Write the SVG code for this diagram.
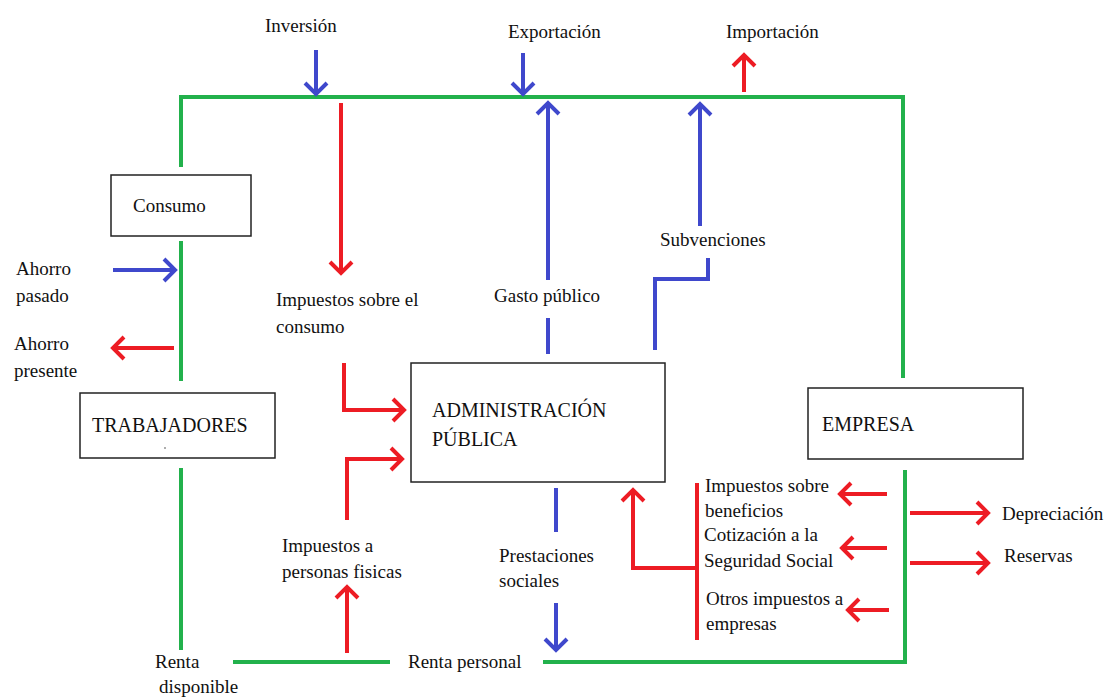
<svg xmlns="http://www.w3.org/2000/svg" width="1110" height="697" viewBox="0 0 1110 697">
<style>
text{font-family:'Liberation Serif','DejaVu Serif',serif;font-size:19px;fill:#111}
.big{font-size:20px}
.box{fill:#fff;stroke:#222;stroke-width:1.5}
.g{stroke:#22b14c;stroke-width:4;fill:none}
.b{stroke:#3f48cc;stroke-width:4;fill:none}
.r{stroke:#ed1c24;stroke-width:4;fill:none}
.ab{marker-end:url(#mb)}
.ar{marker-end:url(#mr)}
</style>
<defs>
<marker id="mb" markerUnits="userSpaceOnUse" viewBox="-15 -15 30 30" markerWidth="30" markerHeight="30" refX="0" refY="0" orient="auto" overflow="visible">
<path d="M-11,-11 L0,0 L-11,11" fill="none" stroke="#3f48cc" stroke-width="4"/>
</marker>
<marker id="mr" markerUnits="userSpaceOnUse" viewBox="-15 -15 30 30" markerWidth="30" markerHeight="30" refX="0" refY="0" orient="auto" overflow="visible">
<path d="M-11,-11 L0,0 L-11,11" fill="none" stroke="#ed1c24" stroke-width="4"/>
</marker>
</defs>
<rect width="1110" height="697" fill="#fff"/>

<g id="connectors">
<polyline class="g" points="181,167 181,97 903,97 903,378"/>
<line class="g" x1="181" y1="241" x2="181" y2="381"/>
<line class="g" x1="181" y1="468" x2="181" y2="650"/>
<line class="g" x1="233" y1="662" x2="390" y2="662"/>
<polyline class="g" points="543,662 905,662 905,470"/>
<line class="b ab" x1="316" y1="50" x2="316" y2="94"/>
<line class="b ab" x1="523" y1="53" x2="523" y2="94"/>
<line class="r ar" x1="744" y1="92" x2="744" y2="55"/>
<line class="r ar" x1="341" y1="103" x2="341" y2="273"/>
<polyline class="r ar" points="344,363 344,410 404,410"/>
<line class="b ab" x1="548" y1="280" x2="548" y2="103"/>
<line class="b" x1="548" y1="318" x2="548" y2="354"/>
<line class="b ab" x1="700" y1="226" x2="700" y2="104"/>
<polyline class="b" points="708,258 708,279 655,279 655,350"/>
<line class="b ab" x1="113" y1="270" x2="175" y2="270"/>
<line class="r ar" x1="174" y1="348" x2="113" y2="348"/>
<polyline class="r ar" points="347,520 347,459 402,459"/>
<line class="r ar" x1="347" y1="653" x2="347" y2="587"/>
<line class="b" x1="556" y1="488" x2="556" y2="532"/>
<line class="b ab" x1="556" y1="603" x2="556" y2="650"/>
<line class="r" x1="697" y1="483" x2="697" y2="640"/>
<polyline class="r ar" points="697,568 633,568 633,490"/>
<line class="r ar" x1="887" y1="494" x2="840" y2="494"/>
<line class="r ar" x1="887" y1="548" x2="842" y2="548"/>
<line class="r ar" x1="889" y1="610" x2="848" y2="610"/>
<line class="r ar" x1="910" y1="513" x2="988" y2="513"/>
<line class="r ar" x1="910" y1="563" x2="988" y2="563"/>
</g>

<g id="consumo">
<rect class="box" x="111" y="175" width="140" height="61"/>
<text x="133" y="212">Consumo</text>
</g>
<g id="trabajadores">
<rect class="box" x="80" y="393" width="195" height="65"/>
<text class="big" x="92" y="432">TRABAJADORES</text>
<circle cx="165" cy="448" r="0.8" fill="#444"/>
</g>
<g id="administracion">
<rect class="box" x="411" y="363" width="254" height="119"/>
<text class="big" x="432" y="417">ADMINISTRACIÓN</text>
<text class="big" x="432" y="446">PÚBLICA</text>
</g>
<g id="empresa">
<rect class="box" x="808" y="388" width="215" height="71"/>
<text class="big" x="822" y="431">EMPRESA</text>
</g>

<g id="labels">
<text x="265" y="32">Inversión</text>
<text x="508" y="38">Exportación</text>
<text x="726" y="38">Importación</text>
<text x="16" y="275">Ahorro</text>
<text x="16" y="302">pasado</text>
<text x="14" y="350">Ahorro</text>
<text x="14" y="377">presente</text>
<text x="276" y="306">Impuestos sobre el</text>
<text x="276" y="333">consumo</text>
<text x="494" y="302">Gasto público</text>
<text x="660" y="246">Subvenciones</text>
<text x="705" y="492">Impuestos sobre</text>
<text x="705" y="517">beneficios</text>
<text x="704" y="541">Cotización a la</text>
<text x="704" y="567">Seguridad Social</text>
<text x="706" y="605">Otros impuestos a</text>
<text x="706" y="630">empresas</text>
<text x="1002" y="520">Depreciación</text>
<text x="1004" y="562">Reservas</text>
<text x="282" y="552">Impuestos a</text>
<text x="282" y="578">personas fisicas</text>
<text x="499" y="562">Prestaciones</text>
<text x="499" y="587">sociales</text>
<text x="408" y="668">Renta personal</text>
<text x="155" y="668">Renta</text>
<text x="159" y="693">disponible</text>
</g>
</svg>
